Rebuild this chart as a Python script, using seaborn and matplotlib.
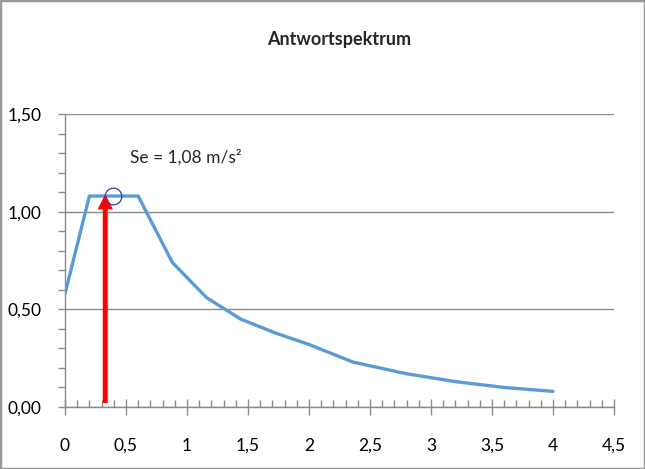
import matplotlib
matplotlib.use("Agg")
import matplotlib.pyplot as plt
import seaborn as sns
import pandas as pd
import numpy as np
from matplotlib.ticker import MultipleLocator, FuncFormatter
from matplotlib.patches import Rectangle

# Data
periods = [0.0, 0.2, 0.6, 0.88, 1.16, 1.44, 1.72, 2.0, 2.36, 2.8, 3.2, 3.6, 4.0]
se_values = [0.58, 1.08, 1.08, 0.74, 0.56, 0.45, 0.38, 0.32, 0.23, 0.17, 0.13, 0.10, 0.08]
arrow_T = 0.33
arrow_top = 1.09
circle_T = 0.39
circle_Se = 1.08
title = "Antwortspektrum"
label_text = "Se = 1,08 m/s²"
x_ticks = [0, 0.5, 1, 1.5, 2, 2.5, 3, 3.5, 4, 4.5]
y_ticks = [0.0, 0.5, 1.0, 1.5]

sns.set_style("white")
plt.rcParams['font.family'] = ['Lato', 'DejaVu Sans']

df = pd.DataFrame({"T": periods, "Se": se_values})

fig = plt.figure(figsize=(6.45, 4.69), dpi=100)
ax = fig.add_axes([65/645, 1-407/469, (614-65)/645, (407-114)/469])

sns.lineplot(data=df, x="T", y="Se", ax=ax, color="#5B9BD5", linewidth=2.4, zorder=3)

ax.set_xlim(0, 4.5)
ax.set_ylim(0, 1.5)
ax.set_xticks(x_ticks)
ax.set_yticks(y_ticks)
ax.xaxis.set_minor_locator(MultipleLocator(0.1))
ax.yaxis.set_minor_locator(MultipleLocator(0.1))

def xfmt(v, pos):
    return ("%g" % v).replace(".", ",")

def yfmt(v, pos):
    return ("%.2f" % v).replace(".", ",")

ax.xaxis.set_major_formatter(FuncFormatter(xfmt))
ax.yaxis.set_major_formatter(FuncFormatter(yfmt))

gray = "#8c8c8c"
ax.grid(axis="y", which="major", color=gray, linewidth=1.0)
ax.grid(axis="x", visible=False)
for s in ["top", "right"]:
    ax.spines[s].set_visible(False)
for s in ["left", "bottom"]:
    ax.spines[s].set_color(gray)
    ax.spines[s].set_linewidth(1.0)

ax.tick_params(axis="x", which="major", direction="inout", length=12, width=1, color=gray,
               labelsize=12.5, pad=16, labelcolor="black")
ax.tick_params(axis="x", which="minor", direction="in", length=5, width=1, color=gray)
ax.tick_params(axis="y", which="major", direction="out", length=5, width=1, color=gray,
               labelsize=12.5, pad=12, labelcolor="black")
ax.tick_params(axis="y", which="minor", direction="out", length=5, width=1, color=gray)
ax.tick_params(axis="both", which="both", bottom=True, left=True)

ax.set_xlabel("")
ax.set_ylabel("")

# red arrow (polygon style, sharp head)
ax.annotate("", xy=(arrow_T, arrow_top), xytext=(arrow_T, 0.02),
            arrowprops=dict(width=3.6, headwidth=11, headlength=11,
                            facecolor="#FF0000", edgecolor="#FF0000", linewidth=0,
                            shrink=0.0),
            zorder=4)

# circle marker
ax.plot([circle_T], [circle_Se], marker="o", markersize=12, markerfacecolor="none",
        markeredgecolor="#3C3C9C", markeredgewidth=0.9, zorder=5)

ax.text(0.53, 1.28, label_text, fontsize=12.5, ha="left", va="center")

fig.text(339/645, 1-40/469, title, fontsize=13, fontweight="bold", ha="center", va="center")

fig.patches.append(Rectangle((0, 0), 1, 1, transform=fig.transFigure, fill=False,
                             edgecolor="#999999", linewidth=2.5))

fig.savefig("out.png", dpi=100)
